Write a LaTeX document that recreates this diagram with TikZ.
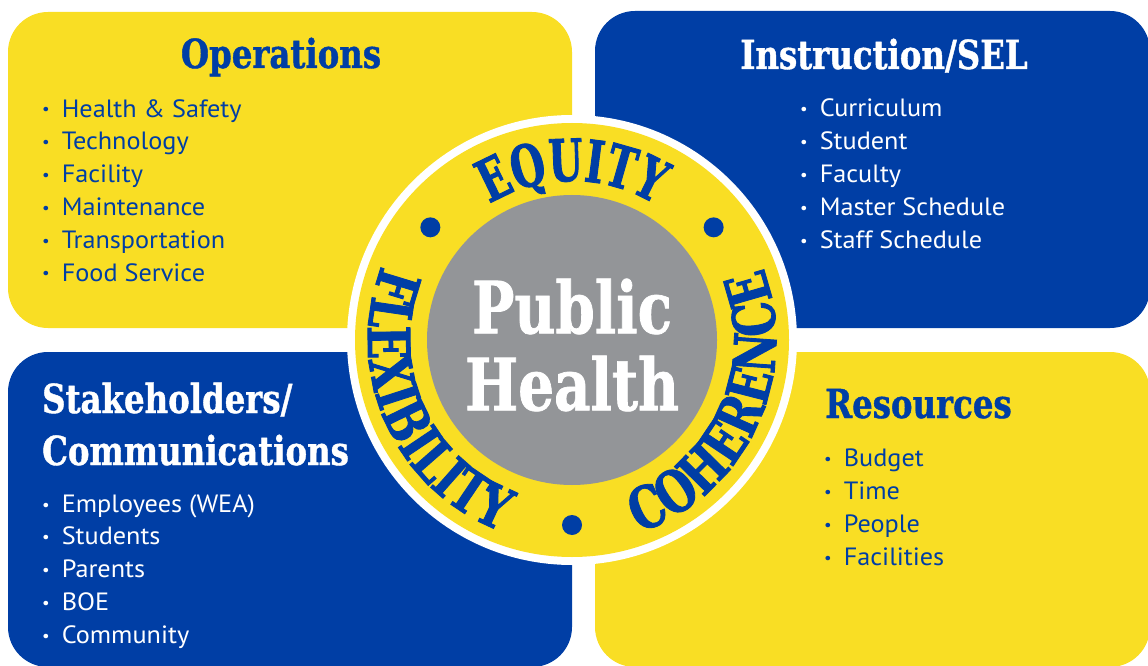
\documentclass[tikz,border=0pt]{standalone}
\usepackage{fontspec}
\setmainfont{PT Sans}[FakeStretch=1.05]
\newfontfamily\slabfont{DejaVu Serif Condensed}[FakeStretch=0.9, FakeBold=1]
\newfontfamily\centrefont{DejaVu Serif Condensed}[FakeStretch=0.87, FakeBold=1]
\newfontfamily\ringfont{DejaVu Serif Condensed}[FakeStretch=0.84, FakeBold=1.5]
\newfontfamily\equityfont{DejaVu Serif Condensed}[FakeStretch=0.75, FakeBold=1.5]
\usetikzlibrary{decorations.text}

\definecolor{phyellow}{RGB}{249,222,36}
\definecolor{phblue}{RGB}{0,62,165}
\definecolor{phgray}{RGB}{147,149,152}

\newcommand{\blt}{{\fontsize{16}{16}\selectfont\raisebox{2pt}{\textbullet}}\hspace{12pt}}

\tikzset{
    panel/.style={rounded corners=40pt, inner sep=0pt},
    title/.style={font=\slabfont\bfseries\fontsize{40}{52}\selectfont, inner sep=0pt},
    items/.style={font=\fontsize{25}{32.8}\selectfont, align=left, anchor=north west, inner sep=0pt},
    ringword/.style n args={2}{decorate,
        decoration={text along path, text align=center, text color=phblue,
            text={|#1\bfseries\fontsize{58}{58}\selectfont|#2}}}
}

\begin{document}
\begin{tikzpicture}[x=1pt, y=1pt]

    \useasboundingbox (0,0) rectangle (1148,665);

    % Four panels
    \node[panel, fill=phyellow,
        minimum width=564pt,
        minimum height=316pt] (ops_box) at (290,495) {};
    \node[panel, fill=phblue,
        minimum width=555pt,
        minimum height=317pt] (ins_box) at (872.5,495.5) {};
    \node[panel, fill=phblue,
        minimum width=564pt,
        minimum height=315pt] (stk_box) at (290,155.5) {};
    \node[panel, fill=phyellow,
        minimum width=555pt,
        minimum height=315pt] (res_box) at (872.5,155.5) {};

    % Panel titles
    \node[title, text=phblue, anchor=base] (ops_title) at (281,597) {Operations};
    \node[title, text=white, anchor=base] (ins_title) at (884,596) {Instruction/SEL};
    \node[title, text=white, anchor=base west] (stk_title) at (42,252) {Stakeholders/};
    \node[title, text=white, anchor=base west] (com_title) at (42,200) {Communications};
    \node[title, text=phblue, anchor=base west] (res_title) at (825,247) {Resources};

    % Panel lists
    \node[items, text=phblue] (ops_list) at (42,566) {\blt Health \& Safety\\ \blt Technology\\ \blt Facility\\
        \blt Maintenance\\ \blt Transportation\\ \blt Food Service};
    \node[items, text=white] (ins_list) at (800,566) {\blt Curriculum\\ \blt Student\\ \blt Faculty\\
        \blt Master Schedule\\ \blt Staff Schedule};
    \node[items, text=white] (stk_list) at (42,171) {\blt Employees (WEA)\\ \blt Students\\ \blt Parents\\
        \blt BOE\\ \blt Community};
    \node[items, text=phblue] (res_list) at (824,216) {\blt Budget\\ \blt Time\\ \blt People\\ \blt Facilities};

    % Ring with centre disc
    \node[circle, fill=white, inner sep=0pt, minimum size=450pt] (ring_out) at (572,325) {};
    \node[circle, fill=phyellow, inner sep=0pt, minimum size=434pt] (ring_in) at (ring_out.center) {};
    \node[circle, fill=phgray, inner sep=0pt, minimum size=290pt] (ph_circ) at (ring_out.center) {};

    \node[text=white, align=center, inner sep=0pt,
        font=\centrefont\bfseries\fontsize{72}{77}\selectfont] (ph_text) at (572,320) {Public\\Health};

    % Words round the ring
    \path[ringword={\equityfont}{EQUITY}] (ring_out.center) ++(180:159pt) arc[start angle=180, end angle=0, radius=159pt];
    \path[ringword={\ringfont}{FLEXIBILITY}] (ring_out.center) ++(114:204pt) arc[start angle=114, end angle=294, radius=204pt];
    \path[ringword={\ringfont}{COHERENCE}] (ring_out.center) ++(245:204pt) arc[start angle=245, end angle=425, radius=204pt];

    % Dots between the words
    \fill[phblue] (ring_out.center) ++(141.5:181pt) circle (10pt);
    \fill[phblue] (ring_out.center) ++(38.5:181pt) circle (10pt);
    \fill[phblue] (ring_out.center) ++(270:185pt) circle (10pt);

\end{tikzpicture}
\end{document}
